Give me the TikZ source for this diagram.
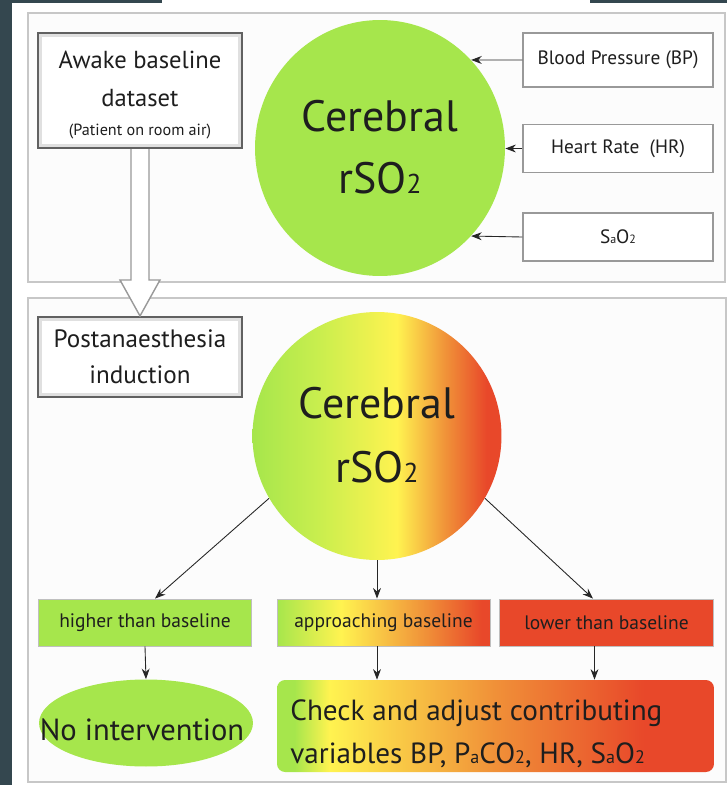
\documentclass[tikz,border=0pt]{standalone}
\usepackage{fontspec}
\setmainfont{PT Sans}
\usetikzlibrary{arrows.meta,positioning,calc,shapes.geometric}

\definecolor{slate}{HTML}{34474F}
\definecolor{limegrn}{HTML}{A6E64C}
\definecolor{limeyel}{HTML}{C8EE4E}
\definecolor{yelw}{HTML}{FFF350}
\definecolor{orng}{HTML}{F09038}
\definecolor{redorg}{HTML}{E8482A}
\definecolor{inkc}{HTML}{1E1E1E}

% horizontal colour ramps (path box maps to 25bp..75bp)
\pgfdeclarehorizontalshading{brainshade}{100bp}{color(0bp)=(limegrn); color(25bp)=(limegrn);
  color(38bp)=(limeyel); color(54bp)=(yelw); color(64bp)=(orng); color(72bp)=(redorg); color(100bp)=(redorg)}
\pgfdeclarehorizontalshading{nearshade}{100bp}{color(0bp)=(limegrn); color(25bp)=(limegrn);
  color(40bp)=(yelw); color(60bp)=(orng); color(73bp)=(redorg); color(100bp)=(redorg)}
\pgfdeclarehorizontalshading{checkshade}{100bp}{color(0bp)=(limegrn); color(25bp)=(limegrn);
  color(27bp)=(limegrn); color(31bp)=(yelw); color(50bp)=(orng); color(67bp)=(redorg); color(100bp)=(redorg)}

\newcommand{\lowsm}[1]{\scalebox{0.62}{#1}}

\begin{document}
\begin{tikzpicture}[
  x=0.02cm,y=-0.02cm,
  every node/.style={text=inkc},
  panel/.style={draw=black!22,line width=1.1pt,fill=black!1},
  shbox/.style={draw=black!62,line width=1.2pt,fill=white,minimum width=4.08cm,
                path picture={\draw[black!12,line width=4pt]
                  (path picture bounding box.south west) rectangle
                  (path picture bounding box.north east);}},
  inbox/.style={draw=black!40,line width=0.7pt,fill=white,minimum width=3.8cm,
                minimum height=0.96cm,font=\fontsize{11}{13}\selectfont},
  bigtxt/.style={font=\fontsize{25}{35}\selectfont,align=center,anchor=base},
  res/.style={draw=black!25,line width=0.5pt,minimum width=4.27cm,minimum height=0.94cm,
              font=\fontsize{11.1}{13}\selectfont},
  arr/.style={-{Stealth[length=6pt,width=4.5pt]},line width=0.5pt,black!85},
  hollow/.style={draw=black!40,line width=0.8pt,fill=white}]

  \useasboundingbox (0,0) rectangle (727,785);
  \fill[white] (0,0) rectangle (727,785);

  % --- slide frame
  \fill[slate] (0,0) rectangle (12,785);
  \fill[slate] (12,0) rectangle (162,2.5);
  \fill[slate] (590,0) rectangle (727,2.5);

  % --- two panels
  \draw[panel] (28,13) rectangle (725,282);
  \draw[panel] (28,298) rectangle (726,782);

  % --- awake panel (text nodes sit on their last baseline)
  \node[shbox,minimum height=2.3cm] (awake) at (140,90.5) {};
  \node[font=\fontsize{14}{21.5}\selectfont,align=center,anchor=base] (awaketxt) at (140,135)
    {Awake baseline\\dataset\\[-5pt]{\fontsize{9.2}{10}\selectfont (Patient on room air)}};

  \node[ellipse,fill=limegrn,minimum width=5cm,minimum height=5.12cm,inner sep=0] (cer1) at (380,148) {};
  \node[bigtxt] (cer1txt) at (380,193) {Cerebral\\rSO\lowsm{2}};

  \node[inbox,minimum height=1.08cm] (bp) at (618,60) {Blood Pressure (BP)};
  \node[inbox] (hr)  at (618,148.5) {Heart Rate\ \ (HR)};
  \node[inbox] (sao) at (618,237) {S\lowsm{a}O\lowsm{2}};

  \draw[arr] (bp.west) -- (cer1.44);
  \draw[arr] (hr.west) -- (hr.west -| cer1.east);
  \draw[arr] (sao.west) -- (cer1.-44);

  % --- postanaesthesia panel
  \node[shbox,minimum height=1.6cm] (post) at (140,357) {};
  \node[font=\fontsize{14.3}{20.4}\selectfont,align=center,anchor=base] (posttxt) at (140,383)
    {Postanaesthesia\\induction};

  % hollow arrow awake -> post
  \draw[hollow] ($(awake.south)+(-9,0)$) -- ($(post.north)+(-9,-36)$)
    -- ($(post.north)+(-20,-36)$) -- (post.north) -- ($(post.north)+(20,-36)$)
    -- ($(post.north)+(9,-36)$) -- ($(awake.south)+(9,0)$);

  \node[ellipse,shading=brainshade,minimum width=4.98cm,minimum height=4.96cm,inner sep=0] (cer2) at (377,436) {};
  \node[bigtxt] (cer2txt) at (377,482) {Cerebral\\[1.3pt]rSO\lowsm{2}};

  \node[res,fill=limegrn] (high) at (145,622.5) {higher than baseline};
  \node[res,shading=nearshade,minimum width=4.26cm] (appr) at (383.5,622.5) {approaching baseline};
  \node[res,fill=redorg] (low) at (606.5,622.5) {lower than baseline};

  \node[ellipse,fill=limegrn,minimum width=4.28cm,minimum height=1.74cm,inner sep=0] (noint) at (146,723) {};
  \node[font=\fontsize{17.4}{19}\selectfont,anchor=base,inner sep=0] (nointtxt) at (142,740) {No intervention};
  \node[rounded corners=0.16cm,shading=checkshade,minimum width=8.74cm,minimum height=1.84cm] (check) at (495.5,726) {};
  \node[font=\fontsize{16.6}{24.4}\selectfont,align=left,anchor=base west,inner sep=0] (checktxt) at (290,763)
    {Check and adjust contributing\\variables BP, P\lowsm{a}CO\lowsm{2}, HR, S\lowsm{a}O\lowsm{2}};

  \draw[arr] (cer2.210) -- ([xshift=0.2cm]high.north);
  \draw[arr] (cer2.south) -- (cer2.south |- appr.north);
  \draw[arr] (cer2.-30) -- ([xshift=-0.27cm]low.north);

  \coordinate (lowcol) at ([xshift=-0.24cm]low.south);
  \draw[arr] (high.south) -- (noint.north);
  \draw[arr] (cer2.south |- appr.south) -- (cer2.south |- check.north);
  \draw[arr] (lowcol) -- (lowcol |- check.north);
\end{tikzpicture}
\end{document}
